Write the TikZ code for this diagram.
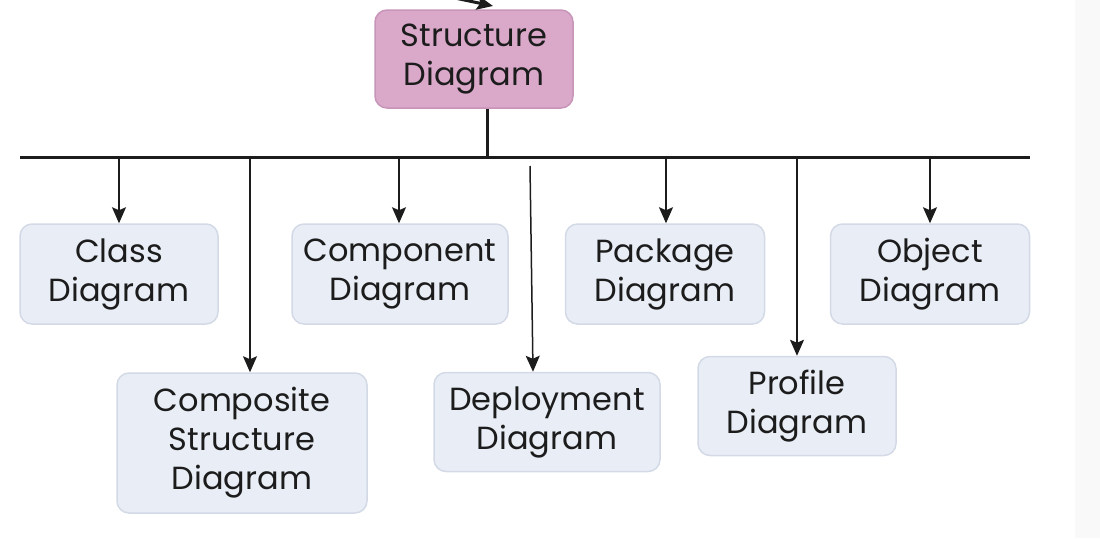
\documentclass[tikz,border=0pt]{standalone}
\usepackage{fontspec}
\setmainfont{Poppins}
\usetikzlibrary{arrows.meta}
\definecolor{boxfill}{HTML}{E9EEF6}
\definecolor{boxline}{HTML}{D3DAE6}
\definecolor{rootfill}{HTML}{DAA9CA}
\definecolor{rootline}{HTML}{C795B8}
\definecolor{ink}{HTML}{1C1C1C}
\tikzset{>={Stealth[length=16pt,width=14pt,inset=3pt]}}
\tikzset{
  diag/.style = {
    draw=boxline, fill=boxfill, line width=1.5pt, rounded corners=12pt,
    text=ink, align=center, inner sep=0pt,
    font=\fontsize{32}{39}\selectfont
  },
  rootbox/.style = {diag, draw=rootline, fill=rootfill},
  link/.style = {->, line width=1.5pt, ink}
}

\begin{document}
\begin{tikzpicture}[x=1pt,y=-1pt]
  \useasboundingbox (0,0) rectangle (1100,538);
  \fill[gray!5] (1075,0) rectangle (1100,538);
  \node[rootbox,minimum width=198pt,minimum height=98pt] (root) at (474,59) {Structure\\Diagram};
  \node[diag,minimum width=198pt,minimum height=100pt] (class) at (119,274) {Class\\Diagram};
  \node[diag,minimum width=250pt,minimum height=140pt] (composite) at (242,443) {Composite\\Structure\\Diagram};
  \node[diag,minimum width=216pt,minimum height=100pt] (component) at (400,274) {Component\\Diagram};
  \node[diag,minimum width=226pt,minimum height=99pt] (deploy) at (547,422) {Deployment\\Diagram};
  \node[diag,minimum width=199pt,minimum height=100pt] (package) at (665,274) {Package\\Diagram};
  \node[diag,minimum width=198pt,minimum height=99pt] (profile) at (797,406) {Profile\\Diagram};
  \node[diag,minimum width=199pt,minimum height=100pt] (object) at (930,274) {Object\\Diagram};
  \coordinate (busL) at (20,157);
  \coordinate (busR) at (1030,157);
  \coordinate (stem) at (487,157);
  \coordinate (from) at (450,-3);
  \coordinate (rootin) at (493,6);
  \coordinate (b1) at (119,157);
  \coordinate (b2) at (250,157);
  \coordinate (b3) at (399,157);
  \coordinate (b4) at (530,166);
  \coordinate (d4) at (533,0);
  \coordinate (b5) at (666,157);
  \coordinate (b6) at (797,157);
  \coordinate (b7) at (930,157);
  \draw[link,line width=3pt] (from) -- (rootin);
  \draw[line width=3pt,ink] (busL) -- (busR);
  \draw[line width=3pt,ink] (root.south -| stem) -- (stem);
  \draw[link] (b1) -- (b1 |- class.north);
  \draw[link] (b2) -- (b2 |- composite.north);
  \draw[link] (b3) -- (b3 |- component.north);
  \draw[link] (b4) -- (d4 |- deploy.north);
  \draw[link] (b5) -- (b5 |- package.north);
  \draw[link] (b6) -- (b6 |- profile.north);
  \draw[link] (b7) -- (b7 |- object.north);
\end{tikzpicture}
\end{document}
